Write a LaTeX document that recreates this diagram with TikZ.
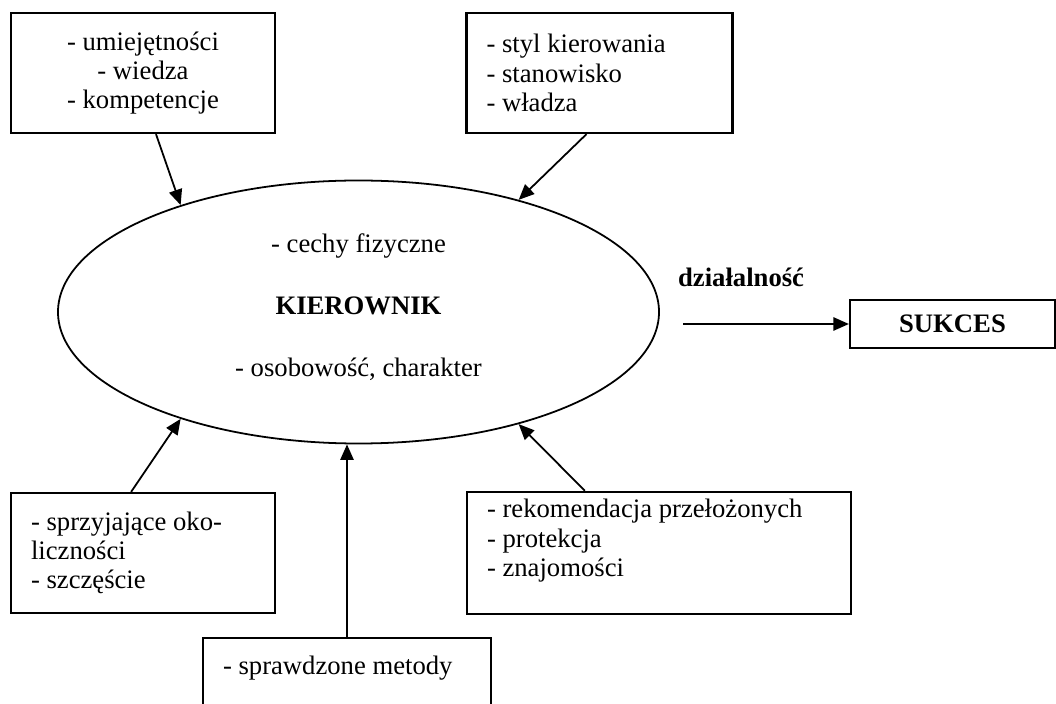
\documentclass[tikz,border=0pt]{standalone}
\usepackage{fontspec}
\setmainfont{Liberation Serif}
\usetikzlibrary{shapes.geometric, arrows.meta}

\begin{document}
\begin{tikzpicture}[x=0.45pt, y=-0.45pt,
  font=\fontsize{12}{13.2}\selectfont,
  plain/.style={execute at begin node={\spaceskip=0pt\xspaceskip=0pt\relax}},
  box/.style={draw, line width=1pt, inner xsep=9pt, plain},
  arr/.style={thick, -{Triangle[length=7pt, width=6pt]}}]
\useasboundingbox (0,0) rectangle (1056,704);
\clip (0,0) rectangle (1056,704);

% Central ellipse
\node[draw, thick, ellipse, plain, minimum width=270.45pt, minimum height=118.35pt, text width=130pt, text depth=62pt] (kier) at (358.5,312)
  {\centering - cechy fizyczne\\[14.7pt] \textbf{KIEROWNIK}\\[14.7pt] - osobowość, charakter\par};

% Factor boxes
\node[box, minimum width=118.8pt, minimum height=54pt, text width=100.8pt] (skills) at (143,73)
  {\centering - umiejętności\\ - wiedza\\ - kompetencje\par};
\node[box, minimum width=119.7pt, minimum height=54pt, text width=101.7pt] (style) at (599.5,73)
  {- styl kierowania\\ - stanowisko\\ - władza};
\node[box, minimum width=118.8pt, minimum height=54pt, text width=100.8pt] (chance) at (143,553)
  {- sprzyjające oko-\\ liczności\\ - szczęście};
\node[box, minimum width=172.8pt, minimum height=54pt, text width=154.8pt, text depth=40pt] (recom) at (659,553)
  {- rekomendacja przełożonych\\ - protekcja\\ - znajomości};
\node[box, anchor=north, minimum width=129.6pt, text width=111.6pt, inner ysep=8pt, text depth=33pt] (methods) at (347,637)
  {- sprawdzone metody};

% Result
\node[draw, line width=1pt, minimum width=92.25pt, minimum height=21.6pt] (sukces) at (952.5,324) {\textbf{SUKCES}};

% Arrows
\draw[arr] (skills.-78) -- (kier.149);
\draw[arr] (style.-102) -- (kier.35);
\draw[arr] (chance.101) -- (kier.211);
\draw[arr] (methods.north) -- (methods.north |- kier.south);
\draw[arr] (recom.140) -- (kier.-35);
\coordinate (act) at (683,324);
\draw[arr] (act) -- node[pos=0.35, above=13pt] (actlabel) {\textbf{działalność}} (sukces);

\end{tikzpicture}
\end{document}
